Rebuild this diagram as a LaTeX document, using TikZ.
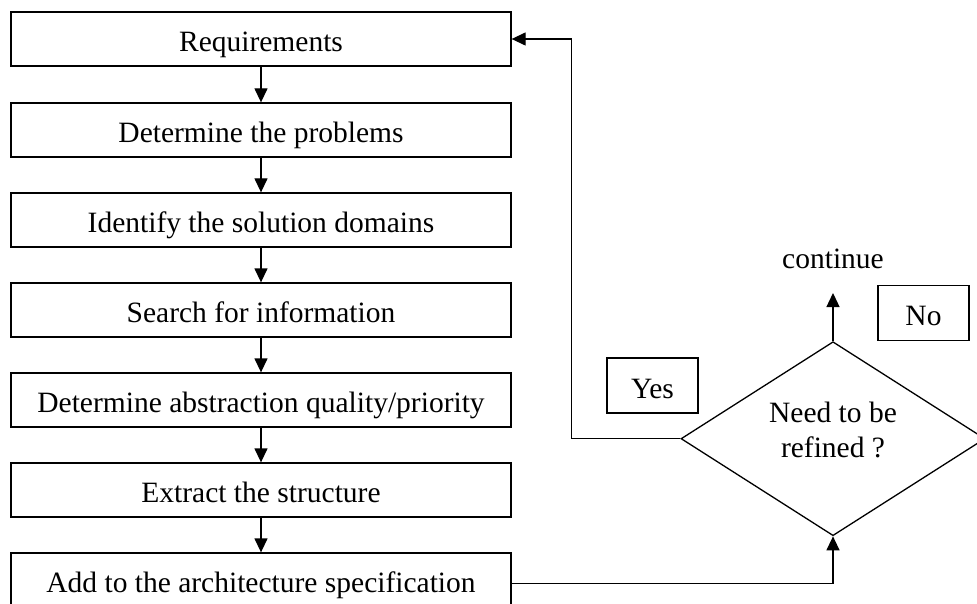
\documentclass[tikz,border=0pt]{standalone}
\usepackage{fontspec}
\setmainfont{Liberation Serif}
\usetikzlibrary{shapes.geometric,arrows.meta}
\begin{document}
\begin{tikzpicture}[x=1pt,y=-1pt,
  every node/.style={font=\fontsize{29.5}{35}\selectfont},
  stepbox/.style={draw,line width=1.3pt,minimum width=500pt,minimum height=54pt,inner sep=0pt,text height=25pt,text depth=0pt},
  tagbox/.style={draw,line width=1.3pt,minimum width=91pt,minimum height=55pt,inner sep=0pt,text height=25pt,text depth=0pt},
  arr/.style={line width=1.3pt,-{Triangle[length=14pt,width=13pt]}}]
\useasboundingbox (0,0) rectangle (977,604);
\node[stepbox] (b1) at (261,39) {Requirements};
\node[stepbox] (b2) at (261,130) {Determine the problems};
\node[stepbox] (b3) at (261,220) {Identify the solution domains};
\node[stepbox] (b4) at (261,310) {Search for information};
\node[stepbox] (b5) at (261,400) {Determine abstraction quality/priority};
\node[stepbox] (b6) at (261,490) {Extract the structure};
\node[stepbox] (b7) at (261,580) {Add to the architecture specification};
\foreach \a/\b in {b1/b2,b2/b3,b3/b4,b4/b5,b5/b6,b6/b7}
  \draw[arr] (\a) -- (\b);
\node[diamond,draw,line width=1.3pt,minimum width=304pt,minimum height=194pt,inner sep=0pt] (d) at (833,438.7) {};
\node[align=center,inner sep=0pt] (dt) at (833,430) {Need to be\\refined ?};
\node[tagbox] (yes) at (652.5,385.5) {Yes};
\node[tagbox] (no) at (923.5,313) {No};
\node[anchor=base,inner sep=0pt] (cont) at (833,269) {continue};
\coordinate (ctip) at (833,293);
\draw[arr] (d.north) -- (ctip);
\draw[arr] (d.west) -- ++(-109,0) |- (b1.east);
\coordinate (c7) at (511,583.3);
\draw[arr] (c7) -| (d.south);
\end{tikzpicture}
\end{document}
